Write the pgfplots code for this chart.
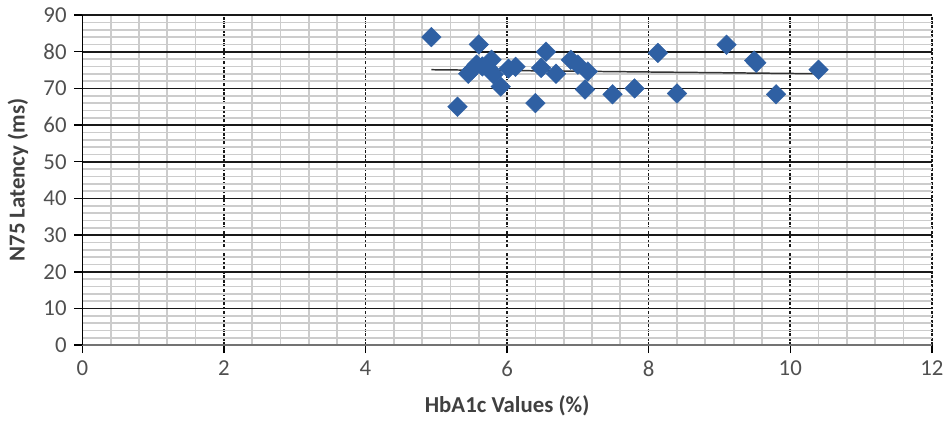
\documentclass[border=0pt]{standalone}
\usepackage{pgfplots}
\pgfplotsset{compat=1.18}
\usepackage{fontspec}
\setmainfont{Carlito}
\definecolor{mk}{RGB}{47,96,163}
\definecolor{tl}{RGB}{80,80,80}
\definecolor{lb}{RGB}{64,64,64}
\begin{document}
\fontsize{23}{27}\selectfont
\begin{tikzpicture}
\begin{axis}[
  scale only axis, width=857pt, height=333pt,
  xmin=0, xmax=12, ymin=0, ymax=90,
  xtick={0,2,...,12}, ytick={0,10,...,90},
  minor x tick num=4, minor y tick num=4,
  grid=both,
  minor grid style={black!20, line width=1.8pt},
  major grid style={black!90, line width=1.6pt},
  major x grid style={dash pattern=on 3pt off 1.5pt},
  axis x line*=bottom, axis y line*=left,
  axis line style={-},
  x axis line style={black!55, line width=2.2pt},
  y axis line style={black, line width=1.5pt},
  tick align=outside,
  major tick length=8pt, minor tick length=0pt,
  major tick style={black, line width=1.4pt},
  tick label style={color=tl, font=\fontsize{23}{27}\selectfont},
  /pgf/number format/assume math mode=true,
  xlabel={\textbf{HbA1c Values (\%)}},
  ylabel={\textbf{N75 Latency (ms)}},
  label style={color=lb, font=\fontsize{23}{27}\selectfont},
  xlabel style={yshift=-4pt},
]
\addplot[only marks, mark=square*, mark size=7pt,
  mark options={rotate=45, fill=mk, draw=mk}]
coordinates {
(4.93,84) (5.3,65) (5.6,82) (5.5,75) (5.45,74) (5.57,76.5) (5.65,76)
(5.78,77.8) (5.74,75.4) (5.81,73.8) (5.91,70.5) (6.02,75.4) (6.12,75.9)
(6.4,66) (6.48,75.6) (6.55,80) (6.69,74) (6.9,77.8) (7.0,76.5) (7.14,74.6)
(7.1,69.7) (7.49,68.4) (7.8,70) (8.13,79.7) (8.40,68.6) (9.10,81.9)
(9.49,77.6) (9.52,77) (9.80,68.4) (10.4,75.1)
};
\addplot[black!80, line width=1.5pt, no marks] coordinates {(4.93,75.1) (10.4,74.0)};
\end{axis}
\end{tikzpicture}
\end{document}
